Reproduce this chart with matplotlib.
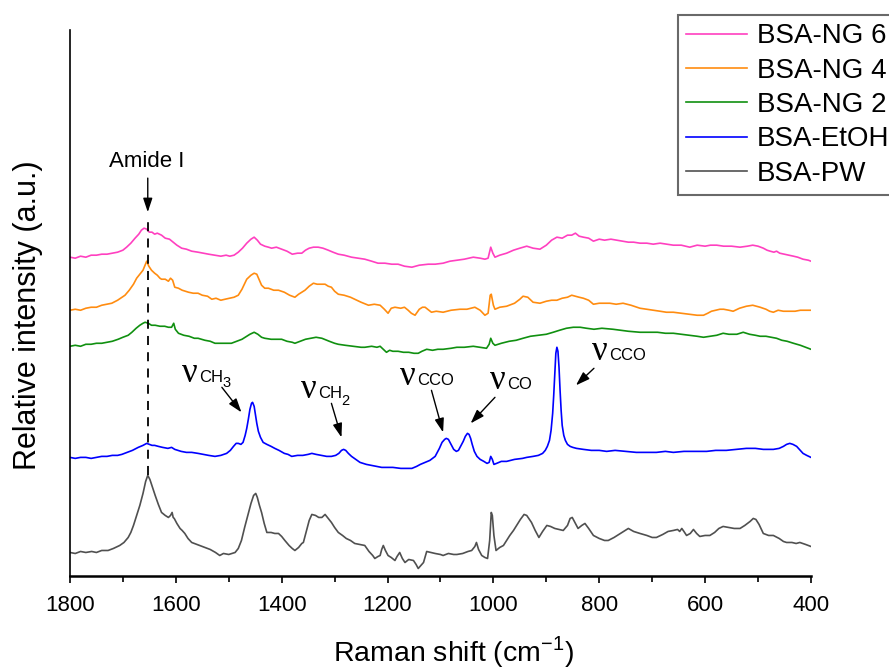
import matplotlib
matplotlib.use('Agg')
import matplotlib.pyplot as plt
from matplotlib.ticker import MultipleLocator

plt.rcParams['font.family'] = ['Liberation Sans', 'DejaVu Sans']
plt.rcParams['mathtext.fontset'] = 'custom'
plt.rcParams['mathtext.rm'] = 'Liberation Sans'

# Raman spectra (shift in cm-1, stacked intensity in a.u.)
ng6_x = [1800, 1790, 1780, 1770, 1760, 1750, 1740, 1730, 1720, 1710, 1700, 1693, 1685, 1677,
         1670, 1665, 1660, 1655, 1650, 1645, 1640, 1635, 1627, 1620, 1612, 1605, 1598, 1589,
         1580, 1570, 1558, 1548, 1538, 1526, 1515, 1505, 1498, 1490, 1482, 1474, 1466, 1458,
         1452, 1446, 1440, 1432, 1425, 1419, 1410, 1400, 1390, 1380, 1370, 1362, 1355, 1348,
         1340, 1331, 1322, 1312, 1303, 1293, 1282, 1268, 1255, 1243, 1230, 1218, 1205, 1192,
         1180, 1168, 1154, 1140, 1123, 1110, 1095, 1082, 1069, 1055, 1038, 1025, 1016, 1010,
         1005, 1001, 997, 988, 975, 962, 950, 937, 925, 912, 900, 890, 880, 870, 860, 852,
         845, 838, 830, 820, 811, 800, 790, 778, 767, 755, 745, 735, 723, 710, 698, 685,
         673, 660, 645, 629, 615, 600, 590, 578, 565, 550, 534, 520, 510, 500, 490, 483,
         477, 470, 465, 459, 450, 440, 433, 425, 415, 405, 400]
ng6_y = [318, 317, 319, 318, 320, 320, 321, 321, 322, 323, 325, 328, 332, 337,
         341, 345, 347, 346, 343, 343, 341, 342, 340, 337, 336, 333, 330, 327,
         326, 324, 323, 322, 321, 320, 319, 320, 319, 320, 323, 327, 332, 336,
         338, 335, 331, 329, 328, 327, 328, 326, 324, 321, 322, 322, 325, 327,
         328, 328, 327, 325, 323, 321, 320, 318, 317, 316, 314, 312, 312, 311,
         311, 309, 308, 310, 311, 311, 312, 314, 315, 316, 318, 317, 316, 317,
         328, 322, 318, 320, 322, 325, 327, 329, 327, 326, 330, 335, 338, 337, 340, 340,
         342, 339, 338, 337, 334, 336, 335, 336, 335, 334, 333, 333, 332, 332, 331, 332,
         331, 330, 330, 328, 330, 329, 330, 330, 329, 329, 328, 329, 330, 329, 327, 325,
         324, 323, 324, 322, 321, 320, 319, 318, 316, 315, 314]

ng4_x = [1800, 1790, 1780, 1770, 1760, 1750, 1740, 1730, 1721, 1710, 1696, 1688, 1680, 1674,
         1668, 1662, 1658, 1655, 1651, 1646, 1640, 1635, 1630, 1627, 1620, 1614, 1610, 1606,
         1602, 1595, 1588, 1576, 1567, 1558, 1550, 1540, 1532, 1524, 1515, 1507, 1498, 1490,
         1482, 1475, 1466, 1458, 1452, 1447, 1443, 1438, 1432, 1425, 1415, 1406, 1395, 1385,
         1375, 1368, 1362, 1356, 1348, 1340, 1333, 1325, 1318, 1312, 1306, 1300, 1293, 1282,
         1270, 1262, 1250, 1236, 1225, 1214, 1206, 1199, 1193, 1186, 1175, 1168, 1161, 1155,
         1148, 1140, 1134, 1129, 1122, 1117, 1108, 1095, 1080, 1063, 1050, 1035, 1025, 1016,
         1010, 1006, 1004, 1000, 997, 988, 975, 960, 950, 944, 935, 925, 912, 900, 890, 880,
         870, 860, 852, 845, 838, 830, 820, 811, 800, 790, 780, 768, 755, 740, 723, 710,
         698, 685, 673, 660, 645, 630, 615, 603, 595, 588, 580, 572, 565, 555, 547, 535,
         522, 510, 496, 485, 478, 471, 462, 452, 440, 430, 420, 410, 400]
ng4_y = [265, 266, 265, 267, 268, 268, 270, 271, 272, 275, 280, 285, 291, 297,
         301, 305, 310, 314, 309, 305, 302, 300, 297, 296, 296, 294, 297, 295,
         288, 287, 285, 283, 282, 282, 280, 279, 276, 277, 275, 276, 277, 278,
         280, 286, 296, 300, 302, 301, 296, 290, 287, 287, 285, 285, 283, 280,
         278, 281, 283, 285, 289, 292, 291, 291, 291, 289, 288, 284, 281, 280,
         278, 276, 273, 270, 271, 270, 266, 262, 267, 268, 267, 268, 265, 262,
         260, 266, 268, 268, 265, 263, 264, 263, 265, 266, 266, 268, 265, 260,
         262, 280, 281, 270, 266, 268, 269, 272, 276, 279, 278, 273, 272, 274, 275, 275,
         277, 278, 280, 279, 278, 277, 275, 271, 272, 272, 272, 271, 272, 270, 267, 266,
         265, 264, 263, 263, 262, 261, 260, 260, 262, 264, 265, 266, 266, 265, 264, 267,
         269, 270, 268, 266, 264, 263, 265, 264, 264, 264, 265, 265, 265]

ng2_x = [1800, 1790, 1780, 1770, 1760, 1750, 1740, 1730, 1720, 1709, 1700, 1690, 1683, 1675,
         1668, 1662, 1658, 1652, 1646, 1639, 1630, 1621, 1614, 1608, 1604, 1601, 1595, 1585,
         1575, 1565, 1558, 1545, 1535, 1526, 1515, 1505, 1495, 1485, 1475, 1469, 1460, 1452,
         1445, 1438, 1432, 1420, 1410, 1400, 1390, 1380, 1375, 1365, 1355, 1345, 1335, 1324,
         1310, 1300, 1293, 1280, 1265, 1250, 1243, 1230, 1220, 1214, 1208, 1202, 1196, 1190,
         1180, 1170, 1160, 1150, 1142, 1135, 1126, 1115, 1105, 1095, 1080, 1069, 1055, 1038,
         1025, 1013, 1008, 1005, 1001, 997, 985, 970, 957, 944, 930, 915, 900, 887, 875, 862,
         849, 836, 824, 810, 795, 774, 760, 745, 723, 705, 690, 675, 660, 645, 630, 615,
         603, 590, 578, 566, 555, 540, 528, 516, 505, 496, 485, 475, 465, 455, 445, 433,
         420, 410, 400]
ng2_y = [229, 230, 229, 231, 231, 232, 232, 233, 234, 236, 238, 240, 243, 247,
         250, 252, 253, 252, 250, 250, 249, 249, 248, 248, 252, 246, 242, 240,
         239, 237, 237, 235, 234, 232, 232, 232, 232, 234, 236, 238, 241, 243,
         241, 238, 237, 236, 236, 236, 234, 233, 232, 234, 236, 237, 238, 237,
         234, 232, 231, 230, 229, 228, 228, 229, 228, 229, 226, 223, 225, 224,
         224, 223, 223, 222, 222, 224, 226, 225, 226, 226, 227, 228, 228, 229,
         228, 227, 231, 237, 232, 230, 232, 234, 235, 237, 239, 240, 241, 243, 245, 247,
         248, 248, 247, 246, 247, 246, 245, 244, 243, 243, 243, 242, 242, 241, 240, 239,
         238, 239, 240, 242, 241, 241, 243, 241, 240, 239, 239, 238, 237, 235, 234, 232,
         230, 228, 226]

etoh_x = [1800, 1790, 1780, 1770, 1760, 1750, 1740, 1730, 1720, 1710, 1702, 1692, 1682, 1671,
          1662, 1655, 1650, 1645, 1640, 1633, 1625, 1615, 1608, 1602, 1590, 1580, 1570, 1558,
          1548, 1538, 1526, 1515, 1504, 1497, 1491, 1486, 1482, 1477, 1473, 1469, 1466, 1463,
          1460, 1457, 1455, 1452, 1450, 1447, 1444, 1440, 1435, 1428, 1420, 1413, 1405, 1395,
          1388, 1381, 1370, 1360, 1350, 1343, 1335, 1325, 1315, 1306, 1298, 1292, 1287, 1283,
          1279, 1274, 1268, 1260, 1252, 1240, 1230, 1220, 1211, 1200, 1190, 1175, 1165, 1154,
          1145, 1138, 1129, 1120, 1110, 1102, 1097, 1092, 1089, 1085, 1080, 1075, 1070, 1066,
          1062, 1057, 1053, 1049, 1046, 1043, 1040, 1036, 1031, 1025, 1018, 1012, 1008, 1005,
          1002, 999, 994, 985, 975, 960, 945, 937, 925, 915, 907, 902, 898, 894, 891, 888,
          886, 884, 882, 880, 878, 876, 874, 872, 870, 867, 864, 860, 855, 850, 843, 830,
          815, 800, 786, 770, 750, 730, 710, 692, 675, 660, 640, 620, 597, 580, 560, 540,
          522, 505, 490, 471, 460, 452, 446, 440, 434, 427, 420, 415, 408, 400]
etoh_y = [118, 117, 118, 118, 117, 118, 119, 119, 120, 120, 121, 123, 125, 128,
          130, 132, 131, 130, 130, 129, 128, 127, 128, 126, 124, 123, 123, 122,
          121, 120, 119, 120, 122, 125, 129, 132, 132, 131, 133, 140, 147, 156,
          166, 172, 173, 169, 162, 152, 144, 138, 133, 131, 129, 127, 125, 122,
          121, 119, 120, 120, 121, 122, 121, 120, 119, 119, 120, 122, 125, 126,
          125, 122, 119, 116, 113, 111, 110, 109, 108, 108, 108, 107, 107, 107,
          109, 111, 113, 115, 119, 127, 133, 136, 137, 136, 131, 126, 124, 125,
          129, 134, 139, 142, 141, 137, 131, 124, 119, 116, 114, 112, 113, 119,
          116, 111, 112, 114, 114, 116, 117, 118, 119, 120, 122, 125, 129, 135, 145, 162,
          180, 202, 222, 228, 224, 208, 185, 165, 150, 140, 135, 131, 129, 128, 127, 126,
          125, 125, 124, 125, 124, 123, 123, 123, 124, 123, 124, 124, 124, 125, 125, 126,
          127, 127, 126, 126, 127, 129, 131, 132, 131, 129, 125, 122, 120, 118]

pw_x = [1800, 1790, 1780, 1770, 1759, 1750, 1740, 1728, 1718, 1706, 1698, 1690, 1685, 1680,
        1674, 1668, 1662, 1657, 1653, 1649, 1644, 1639, 1633, 1627, 1620, 1614, 1610, 1607,
        1605, 1603, 1598, 1592, 1588, 1583, 1577, 1570, 1560, 1545, 1535, 1525, 1517, 1510,
        1500, 1488, 1482, 1476, 1470, 1464, 1458, 1453, 1449, 1446, 1442, 1438, 1433, 1428,
        1420, 1413, 1406, 1400, 1394, 1386, 1380, 1375, 1368, 1362, 1359, 1353, 1348, 1343,
        1336, 1330, 1324, 1318, 1312, 1306, 1300, 1293, 1285, 1278, 1270, 1262, 1253, 1243,
        1235, 1228, 1224, 1218, 1214, 1211, 1208, 1204, 1199, 1193, 1186, 1182, 1177, 1172,
        1167, 1160, 1151, 1146, 1142, 1137, 1132, 1126, 1118, 1110, 1100, 1095, 1085, 1075,
        1069, 1058, 1048, 1041, 1035, 1032, 1028, 1022, 1016, 1011, 1007, 1004, 1002, 999,
        995, 988, 981, 975, 969, 962, 956, 949, 942, 937, 932, 928, 921, 914, 907, 899,
        892, 884, 876, 868, 860, 855, 851, 846, 840, 833, 827, 820, 811, 800, 790, 783,
        772, 760, 745, 735, 723, 710, 700, 692, 680, 670, 660, 652, 648, 644, 640, 635,
        628, 622, 616, 610, 600, 591, 582, 574, 566, 556, 545, 534, 525, 515, 509, 504,
        498, 490, 480, 471, 460, 452, 446, 436, 428, 421, 410, 400]
pw_y = [23, 22, 24, 23, 24, 23, 25, 25, 27, 30, 33, 38, 43, 50,
        60, 70, 82, 94, 100, 96, 88, 80, 71, 63, 60, 58, 60, 63,
        58, 57, 52, 47, 45, 42, 37, 33, 31, 28, 26, 23, 20, 22,
        21, 23, 27, 35, 48, 60, 72, 80, 82, 78, 70, 63, 52, 43,
        43, 42, 42, 39, 35, 30, 27, 25, 28, 32, 33, 45, 55, 61,
        60, 58, 58, 61, 57, 53, 48, 43, 40, 37, 35, 32, 31, 30,
        24, 20, 17, 19, 20, 26, 30, 25, 20, 18, 15, 19, 23, 17,
        13, 16, 15, 11, 7, 10, 13, 24, 23, 22, 21, 20, 22, 21,
        21, 22, 24, 25, 29, 33, 26, 20, 18, 17, 35, 63, 60, 40,
        25, 28, 30, 35, 40, 45, 50, 56, 61, 60, 56, 53, 45, 38, 44, 50,
        49, 47, 46, 45, 50, 57, 58, 53, 47, 50, 52, 47, 40, 37, 35, 35,
        38, 42, 47, 44, 42, 40, 38, 38, 41, 44, 45, 46, 44, 47, 44, 40,
        42, 46, 42, 39, 40, 40, 43, 47, 49, 48, 47, 47, 50, 54, 57, 56,
        51, 42, 40, 40, 37, 34, 33, 33, 32, 33, 31, 29]

series = [
    ('BSA-NG 6', ng6_x, ng6_y, '#ff40c0'),
    ('BSA-NG 4', ng4_x, ng4_y, '#ff8c10'),
    ('BSA-NG 2', ng2_x, ng2_y, '#109010'),
    ('BSA-EtOH', etoh_x, etoh_y, '#0000ff'),
    ('BSA-PW', pw_x, pw_y, '#505050'),
]

amide_pos = 1653

fig = plt.figure(figsize=(8.89, 6.72), dpi=100)
ax = fig.add_axes([0.0787, 0.1436, 0.8335, 0.8118])

for name, xs, ys, col in series:
    ax.plot(xs, ys, color=col, lw=1.2, label=name)

ax.set_xlim(1800, 400)
ax.set_ylim(0, 545)
ax.set_yticks([])
ax.xaxis.set_major_locator(MultipleLocator(200))
ax.xaxis.set_minor_locator(MultipleLocator(100))
ax.tick_params(axis='x', which='major', length=5, width=1.2, labelsize=16, pad=9)
ax.tick_params(axis='x', which='minor', length=4, width=1.2)
for s in ['top', 'right']:
    ax.spines[s].set_visible(False)
ax.spines['bottom'].set_linewidth(1.8)
ax.spines['left'].set_linewidth(1.2)

ax.set_xlabel('Raman shift (cm$^{\\mathrm{-1}}$)', fontsize=20.5)
ax.xaxis.set_label_coords(0.517, -0.108)
ax.set_ylabel('Relative intensity (a.u.)', fontsize=22)
ax.yaxis.set_label_coords(-0.036, 0.477)

# Amide I marker
ax.vlines(amide_pos, 100, 355, colors='black', linestyles=(0, (5, 4)), lw=1.3)
arrow = dict(arrowstyle='-|>,head_length=0.6,head_width=0.2', color='black',
             lw=1, shrinkA=0, shrinkB=0, mutation_scale=14)
ax.annotate('', xy=(amide_pos, 363), xytext=(amide_pos, 397), arrowprops=arrow)
ax.text(1655, 408, 'Amide I', fontsize=16, ha='center', va='baseline')


def nu_label(x, y, sub, sub2=None, sub2_dx=29, sub2_dy=-4):
    ax.text(x, y, '\u03bd', family='Liberation Serif', fontsize=25, ha='left', va='baseline')
    ax.annotate(sub, xy=(x, y), xytext=(12.5, 0), textcoords='offset points',
                fontsize=12, ha='left', va='baseline')
    if sub2:
        ax.annotate(sub2, xy=(x, y), xytext=(sub2_dx, sub2_dy), textcoords='offset points',
                    fontsize=10.5, ha='left', va='baseline')


nu_label(1588, 193, 'CH', '3', sub2_dy=-3.5)
nu_label(1364, 177, 'CH', '2', sub2_dy=-4.5)
nu_label(1177, 190, 'CCO')
nu_label(1007, 186, 'CO')
nu_label(814, 215, 'CCO')

ax.annotate('', xy=(1476, 163), xytext=(1513, 188), arrowprops=arrow)
ax.annotate('', xy=(1287, 138), xytext=(1306, 172), arrowprops=arrow)
ax.annotate('', xy=(1095, 143), xytext=(1117, 185), arrowprops=arrow)
ax.annotate('', xy=(1043, 152), xytext=(997, 178), arrowprops=arrow)
ax.annotate('', xy=(844, 190), xytext=(810, 207), arrowprops=arrow)

leg = fig.legend(loc='upper left', bbox_to_anchor=(0.7623, 0.9777), fontsize=20,
                 frameon=True, fancybox=False, handlelength=2.2, handletextpad=0.35,
                 labelspacing=0.3, borderpad=0.3, borderaxespad=0)
leg.get_frame().set_edgecolor('#444444')
leg.get_frame().set_linewidth(1.5)

fig.savefig('out.png', dpi=100)
